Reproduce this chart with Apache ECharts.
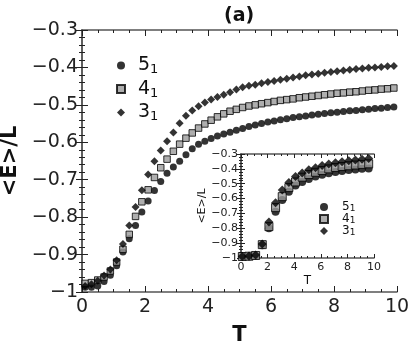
<!DOCTYPE html>
<html>
<head>
<meta charset="utf-8">
<script src="https://cdn.jsdelivr.net/npm/echarts@6/dist/echarts.min.js"></script>
<style>
  html, body { margin: 0; padding: 0; background: #fff; }
  #chart { width: 415px; height: 356px; }
</style>
</head>
<body>
<div id="chart"></div>
<script>
  // main panel: T and <E>/L for the three knots
  var temps = [0.1, 0.3, 0.5, 0.7, 0.9, 1.1, 1.3, 1.5, 1.7, 1.9,
    2.1, 2.3, 2.5, 2.7, 2.9, 3.1, 3.3, 3.5, 3.7, 3.9,
    4.1, 4.3, 4.5, 4.7, 4.9, 5.1, 5.3, 5.5, 5.7, 5.9,
    6.1, 6.3, 6.5, 6.7, 6.9, 7.1, 7.3, 7.5, 7.7, 7.9,
    8.1, 8.3, 8.5, 8.7, 8.9, 9.1, 9.3, 9.5, 9.7, 9.9];
  var e51 = [-0.987, -0.987, -0.984, -0.972, -0.955, -0.930, -0.893, -0.858, -0.822, -0.786,
    -0.757, -0.729, -0.705, -0.683, -0.666, -0.651, -0.633, -0.617, -0.605, -0.597,
    -0.590, -0.583, -0.578, -0.573, -0.568, -0.563, -0.558, -0.554, -0.550, -0.546,
    -0.543, -0.540, -0.537, -0.534, -0.532, -0.530, -0.527, -0.525, -0.523, -0.521,
    -0.520, -0.518, -0.516, -0.515, -0.513, -0.512, -0.510, -0.509, -0.507, -0.506];
  var e41 = [-0.977, -0.975, -0.968, -0.960, -0.944, -0.920, -0.886, -0.846, -0.798, -0.759,
    -0.727, -0.694, -0.668, -0.645, -0.624, -0.605, -0.589, -0.575, -0.562, -0.551,
    -0.541, -0.532, -0.524, -0.517, -0.512, -0.507, -0.503, -0.500, -0.497, -0.494,
    -0.491, -0.488, -0.486, -0.484, -0.481, -0.479, -0.477, -0.475, -0.473, -0.471,
    -0.469, -0.468, -0.466, -0.465, -0.463, -0.461, -0.460, -0.458, -0.457, -0.455];
  var e31 = [-0.984, -0.979, -0.970, -0.956, -0.940, -0.915, -0.872, -0.822, -0.773, -0.728,
    -0.686, -0.651, -0.622, -0.597, -0.574, -0.549, -0.529, -0.515, -0.504, -0.494,
    -0.486, -0.479, -0.473, -0.466, -0.459, -0.453, -0.449, -0.446, -0.442, -0.439,
    -0.436, -0.433, -0.430, -0.427, -0.424, -0.421, -0.419, -0.417, -0.414, -0.412,
    -0.410, -0.408, -0.406, -0.404, -0.403, -0.401, -0.400, -0.399, -0.397, -0.396];

  // inset panel
  var insetTemps = [0.1, 0.6, 1.1, 1.6, 2.1, 2.6, 3.1, 3.6, 4.1, 4.6,
    5.1, 5.6, 6.1, 6.6, 7.1, 7.6, 8.1, 8.6, 9.1, 9.6];
  var in51 = [-0.990, -0.990, -0.985, -0.915, -0.800, -0.688, -0.610, -0.554, -0.512, -0.488,
    -0.468, -0.452, -0.440, -0.430, -0.421, -0.414, -0.408, -0.404, -0.400, -0.397];
  var in41 = [-0.990, -0.988, -0.983, -0.910, -0.789, -0.661, -0.587, -0.526, -0.488, -0.456,
    -0.438, -0.423, -0.411, -0.400, -0.391, -0.384, -0.379, -0.374, -0.370, -0.366];
  var in31 = [-0.990, -0.987, -0.980, -0.905, -0.758, -0.628, -0.542, -0.492, -0.452, -0.428,
    -0.406, -0.392, -0.377, -0.367, -0.359, -0.352, -0.346, -0.340, -0.336, -0.331];

  var names = ['5_1', '4_1', '3_1'];
  var yRange = [-1, -0.3];
  var xRange = [0, 10];

  var font = 'DejaVu Sans';
  var axisColor = '#555';

  function pairs(xs, ys) {
    return xs.map(function (x, i) { return [x, ys[i]]; });
  }
  function minus(v) {
    return String(v).replace('-', '\u2212');
  }
  function knotLabel(name) {// 5_1 -> 5 with subscript 1
    var p = name.split('_');
    return '{n|' + p[0] + '}{s|' + p[1] + '}';
  }
  function xAx(grid, pos, size, labels, nm) {
    var big = size > 12;
    return {
      type: 'value', gridIndex: grid, position: pos,
      min: xRange[0], max: xRange[1], interval: 2,
      axisLine: {show: true, lineStyle: {color: axisColor, width: 1.5}},
      axisTick: {show: true, inside: true, length: big ? 6 : 4, lineStyle: {color: '#222'}},
      minorTick: {show: true, splitNumber: 4, length: big ? 3 : 2, lineStyle: {color: '#222'}},
      splitLine: {show: false},
      axisLabel: {show: labels, fontSize: size, fontFamily: font, color: '#222', margin: big ? 6 : 4},
      name: nm, nameLocation: 'middle', nameGap: big ? 33 : 17,
      nameTextStyle: {fontSize: big ? 21 : 12, fontWeight: big ? 'bold' : 'normal', fontFamily: font, color: '#111'}
    };
  }
  function yAx(grid, pos, size, labels, nm) {
    var big = size > 12;
    return {
      type: 'value', gridIndex: grid, position: pos,
      min: yRange[0], max: yRange[1], interval: 0.1,
      axisLine: {show: true, lineStyle: {color: axisColor, width: 1.5}},
      axisTick: {show: true, inside: true, length: big ? 6 : 4, lineStyle: {color: '#222'}},
      minorTick: {show: true, splitNumber: 5, length: big ? 3 : 2, lineStyle: {color: '#222'}},
      splitLine: {show: false},
      axisLabel: {show: labels, fontSize: size, fontFamily: font, color: '#222', margin: big ? 4 : 3, formatter: minus},
      name: nm, nameLocation: 'middle', nameGap: big ? 57 : 30,
      nameTextStyle: {fontSize: big ? 21 : 11, fontWeight: big ? 'bold' : 'normal', fontFamily: font, color: '#111'}
    };
  }
  function dots(name, xi, xs, ys, kind, big) {
    var s = {
      type: 'scatter', name: name, xAxisIndex: xi, yAxisIndex: xi,
      data: pairs(xs, ys), silent: true, z: 5
    };
    if (kind === 'circle') {
      s.symbol = 'circle'; s.symbolSize = big ? 8 : 7;
      s.itemStyle = {color: '#000'};
    } else if (kind === 'rect') {
      s.symbol = 'rect'; s.symbolSize = big ? 8 : 6.5;
      s.itemStyle = {color: '#9a9a9a', borderColor: '#000', borderWidth: 1};
    } else {
      s.symbol = 'diamond'; s.symbolSize = big ? [9, 9] : [8, 8];
      s.itemStyle = {color: '#000'};
    }
    return s;
  }

  var chart = echarts.init(document.getElementById('chart'));
  chart.setOption({
    animation: false,
    backgroundColor: '#fff',
    title: {
      text: '(a)', left: 219, top: 2,
      textStyle: {fontSize: 19, fontWeight: 'bold', fontFamily: font, color: '#111'}
    },
    legend: [
      {
        data: names, orient: 'vertical', left: 111, top: 51,
        itemWidth: 8, itemHeight: 8, itemGap: 3, selectedMode: false,
        formatter: knotLabel,
        textStyle: {
          fontFamily: font, color: '#111', padding: [0, 0, 0, 8],
          rich: {
            n: {fontSize: 19, fontFamily: font, color: '#111', lineHeight: 22},
            s: {fontSize: 13, fontFamily: font, color: '#111', lineHeight: 14, verticalAlign: 'bottom'}
          }
        }
      },
      {
        data: names, orient: 'vertical', left: 314, top: 196,
        itemWidth: 8, itemHeight: 8, itemGap: 0, selectedMode: false,
        formatter: knotLabel,
        textStyle: {
          fontFamily: font, color: '#111', padding: [0, 0, 0, 9],
          rich: {
            n: {fontSize: 12, fontFamily: font, color: '#111', lineHeight: 12},
            s: {fontSize: 9, fontFamily: font, color: '#111', lineHeight: 9, verticalAlign: 'bottom'}
          }
        }
      }
    ],
    grid: [
      {left: 82, top: 30, right: 18, bottom: 64, containLabel: false, outerBoundsMode: 'none'},
      {left: 241, top: 154, width: 133, height: 104, containLabel: false, outerBoundsMode: 'none',
        show: true, backgroundColor: '#fff', borderWidth: 0}
    ],
    xAxis: [
      xAx(0, 'bottom', 19, true, 'T'),
      xAx(0, 'top', 19, false, ''),
      xAx(1, 'bottom', 11, true, 'T'),
      xAx(1, 'top', 11, false, '')
    ],
    yAxis: [
      yAx(0, 'left', 19, true, '<E>/L'),
      yAx(0, 'right', 19, false, ''),
      yAx(1, 'left', 11, true, '<E>/L'),
      yAx(1, 'right', 11, false, '')
    ],
    series: [
      dots(names[0], 0, temps, e51, 'circle', false),
      dots(names[1], 0, temps, e41, 'rect', false),
      dots(names[2], 0, temps, e31, 'diamond', false),
      dots(names[0], 2, insetTemps, in51, 'circle', true),
      dots(names[1], 2, insetTemps, in41, 'rect', true),
      dots(names[2], 2, insetTemps, in31, 'diamond', true)
    ]
  });
</script>
</body>
</html>
